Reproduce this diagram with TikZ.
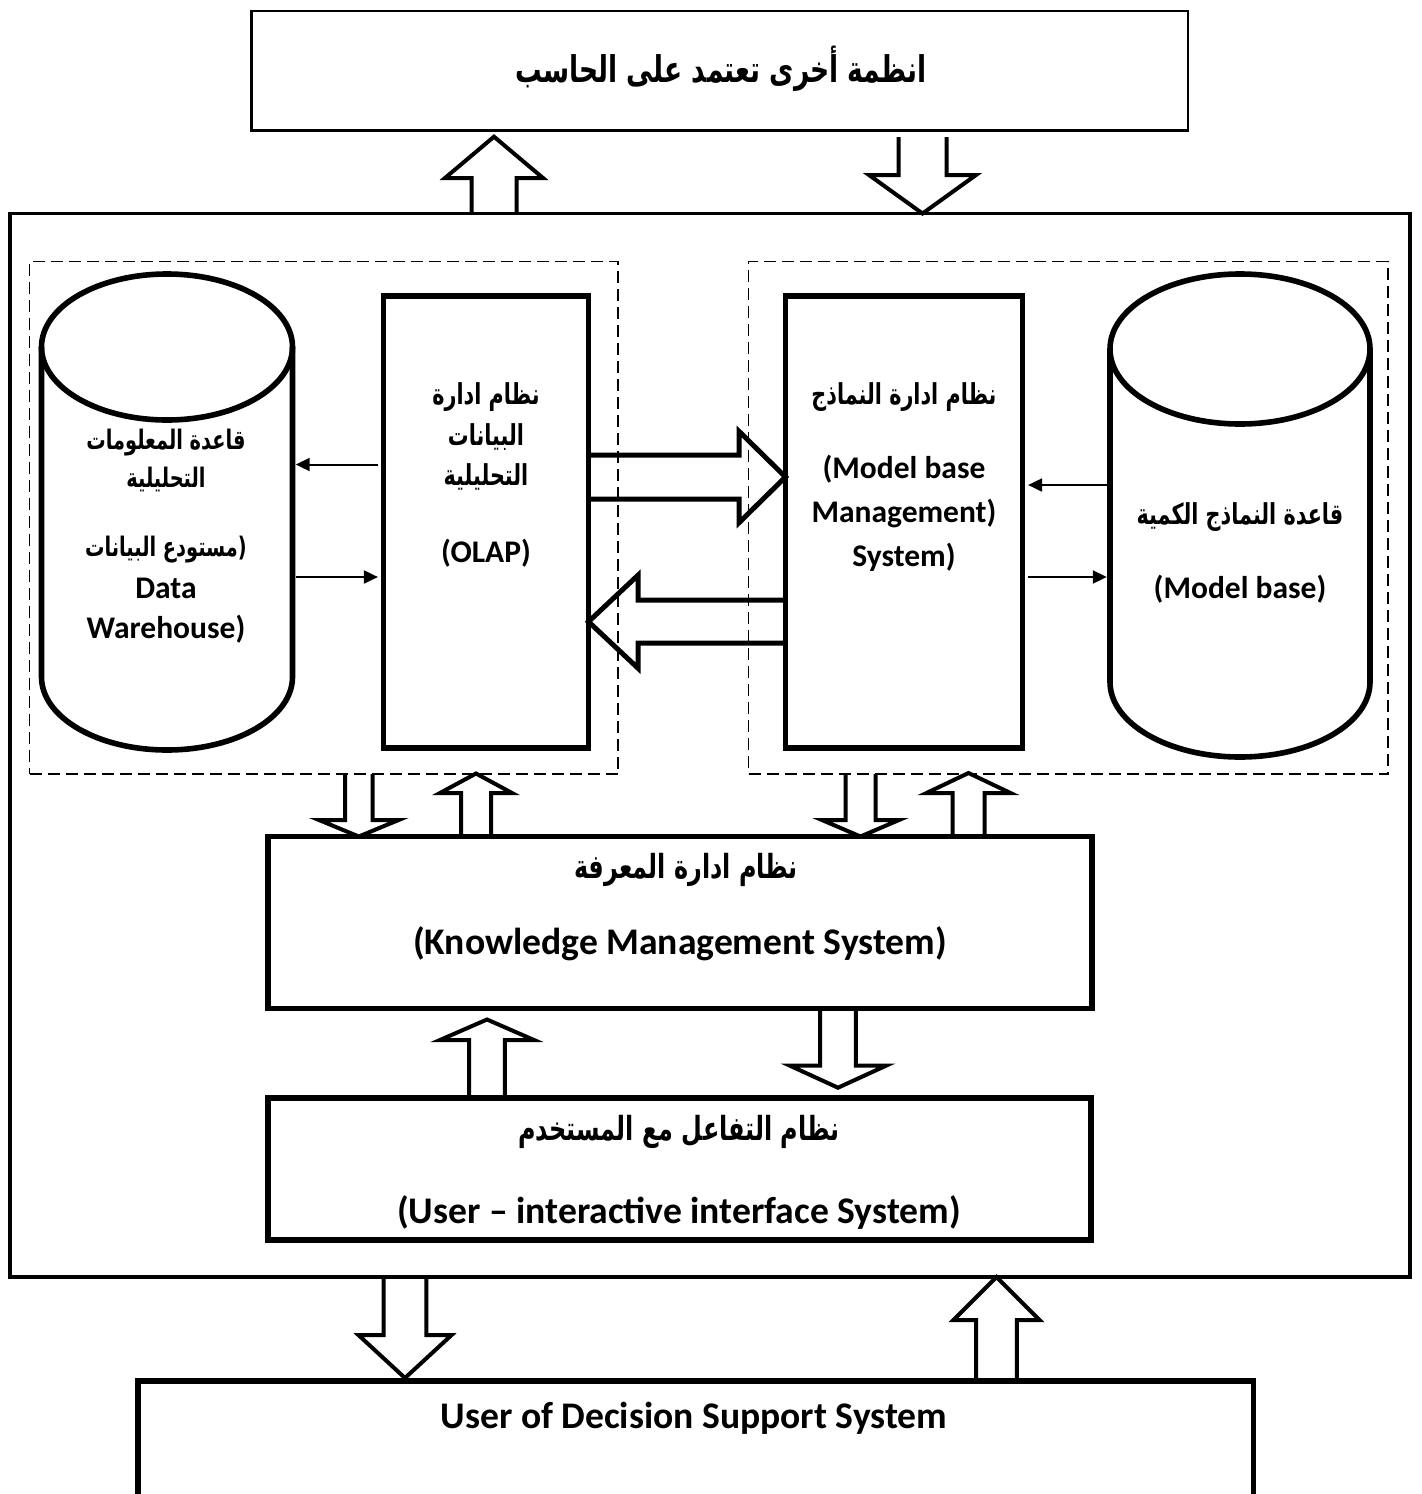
\documentclass[tikz,border=0pt]{standalone}
\usepackage{fontspec}
\setmainfont{Carlito}
\newfontfamily\arabicfont[Script=Arabic, FakeStretch=0.72]{DejaVu Sans}
\TeXXeTstate=1
\usetikzlibrary{arrows.meta}

\tikzset{
  thinbox/.style={draw, line width=1.25pt, rectangle, inner sep=0pt},
  outerbox/.style={draw, line width=1.6pt, rectangle, inner sep=0pt},
  heavybox/.style={draw, line width=2.8pt, rectangle, inner sep=0pt},
  dashbox/.style={draw, line width=0.6pt, dash pattern=on 6pt off 3pt, rectangle, inner sep=0pt},
  ghost/.style={rectangle, inner sep=0pt},
  heavyline/.style={line width=2.8pt},
  smallarrow/.style={line width=1pt, -{Triangle[length=7pt,width=6.5pt]}, shorten >=1.4pt, shorten <=1.4pt},
  hollowarrow/.style={line width=2pt, line join=miter},
  wideharrow/.style={line width=2.5pt, line join=miter},
  entxt/.style={font=\bfseries\fontsize{15.75}{18}\selectfont, anchor=base, inner sep=0pt},
  enbig/.style={font=\bfseries\fontsize{18.8}{22}\selectfont, anchor=base, inner sep=0pt},
  artxt/.style={font=\arabicfont\bfseries\fontsize{14.4}{17}\selectfont, anchor=base, inner sep=0pt},
  ardw/.style={font=\arabicfont\bfseries\fontsize{13.45}{16}\selectfont, anchor=base, inner sep=0pt},
  arbig/.style={font=\arabicfont\bfseries\fontsize{16.6}{20}\selectfont, anchor=base, inner sep=0pt},
  artop/.style={font=\arabicfont\bfseries\fontsize{18.4}{22}\selectfont, anchor=base, inner sep=0pt},
}

% vertical hollow block arrow: x, tail y, tip y, head-base y, shaft half width, head half width
\newcommand\vblock[7][hollowarrow]{%
  \draw[#1] ({#2-#6},#3) -- ({#2-#6},#5) -- ({#2-#7},#5) -- (#2,#4)
    -- ({#2+#7},#5) -- ({#2+#6},#5) -- ({#2+#6},#3);}
% horizontal hollow block arrow: y, tail x, tip x, head-base x, shaft half width, head half width
\newcommand\hblock[7][wideharrow]{%
  \draw[#1] (#3,{#2-#6}) -- (#5,{#2-#6}) -- (#5,{#2-#7}) -- (#4,#2)
    -- (#5,{#2+#7}) -- (#5,{#2+#6}) -- (#3,{#2+#6});}

\begin{document}
\begin{tikzpicture}[x=0.5pt,y=-0.5pt]
\useasboundingbox (0,0) rectangle (1421,1494);

% ---------- boxes ----------
\node[thinbox, minimum width=468.25pt, minimum height=59.75pt] (sys) at (719.75,70.75) {};
\node[outerbox, minimum width=700pt, minimum height=531.75pt] (dss-core) at (710,745.25) {};
\node[dashbox, minimum width=294.25pt, minimum height=256.25pt] (leftgrp) at (323.75,517.75) {};
\node[dashbox, minimum width=319.75pt, minimum height=256.25pt] (rightgrp) at (1068.25,517.75) {};
\node[heavybox, minimum width=102.5pt, minimum height=226pt] (olap) at (486,522) {};
\node[heavybox, minimum width=118.5pt, minimum height=226pt] (mbms) at (904,522) {};
\node[heavybox, minimum width=412pt, minimum height=86pt] (kms) at (680,922.5) {};
\node[heavybox, minimum width=411.5pt, minimum height=71pt] (ui) at (679.5,1169) {};
\node[heavybox, minimum width=557.75pt, minimum height=109.5pt] (dss) at (695.75,1490.5) {};

% ---------- cylinders ----------
\node[ghost, minimum width=125.5pt, minimum height=238pt] (dw) at (167,512) {};
\draw[heavyline] (167,347) ellipse [x radius=125.5, y radius=73];
\draw[heavyline] (41.5,347) -- (41.5,677) arc [start angle=180, end angle=0, x radius=125.5, y radius=73] -- (292.5,347);

\node[ghost, minimum width=130pt, minimum height=241.5pt] (mb) at (1240,515.5) {};
\draw[heavyline] (1240,349) ellipse [x radius=130, y radius=75];
\draw[heavyline] (1110,349) -- (1110,682) arc [start angle=180, end angle=0, x radius=130, y radius=75] -- (1370,349);

% ---------- thin arrows ----------
\coordinate (r1) at (0,464.5);
\coordinate (r2) at (0,577);
\coordinate (r3) at (0,485);
\coordinate (r4) at (0,577);
\draw[smallarrow] (olap.west |- r1) -- (dw.east |- r1);
\draw[smallarrow] (dw.east |- r2) -- (olap.west |- r2);
\draw[smallarrow] (mb.west |- r3) -- (mbms.east |- r3);
\draw[smallarrow] (mbms.east |- r4) -- (mb.west |- r4);

% ---------- hollow block arrows ----------
\vblock{494}{213.5}{136.7}{178}{22.5}{49}
\vblock{922.5}{137}{213.5}{175}{24}{53.5}
\hblock{477}{588.5}{785.5}{739}{22}{45.7}
\hblock{621.7}{785.5}{588.5}{638}{21.5}{46.5}
\vblock{358.8}{774}{836.5}{820}{13.8}{39.8}
\vblock{476}{836.5}{773.5}{793}{15}{36}
\vblock{860.5}{774}{836.5}{820}{15}{38.5}
\vblock{968.5}{836.5}{773}{793}{16}{42}
\vblock{487}{1098}{1019.5}{1040}{17.8}{47}
\vblock{838}{1008.5}{1087.7}{1065.7}{17.8}{48}
\vblock{405}{1277}{1378}{1335}{21.3}{46.6}
\vblock{996.5}{1381}{1277}{1320}{20.3}{43}

% ---------- labels ----------
\node[artop] (sys-t) at (721,82) {\beginR انظمة أخرى تعتمد على الحاسب\endR};

\node[ardw] (dw-t1) at (166,449) {\beginR قاعدة المعلومات\endR};
\node[ardw] (dw-t2) at (166,487) {\beginR التحليلية\endR};
\node[ardw] (dw-t3) at (166,556) {\beginR مستودع البيانات\endR(};
\node[entxt] (dw-t4) at (166,598) {Data};
\node[entxt] (dw-t5) at (166,638.5) {Warehouse)};

\node[artxt] (olap-t1) at (486,404) {\beginR نظام ادارة\endR};
\node[artxt] (olap-t2) at (486,445) {\beginR البيانات\endR};
\node[artxt] (olap-t3) at (486,485) {\beginR التحليلية\endR};
\node[entxt] (olap-t4) at (486,562) {(OLAP)};

\node[artxt] (mbms-t1) at (904,404) {\beginR نظام ادارة النماذج\endR};
\node[entxt] (mbms-t2) at (904,478) {(Model base};
\node[entxt] (mbms-t3) at (904,522) {Management)};
\node[entxt] (mbms-t4) at (904,566) {System)};

\node[artxt] (mb-t1) at (1240,524) {\beginR قاعدة النماذج الكمية\endR};
\node[entxt] (mb-t2) at (1240,598) {(Model base)};

\node[arbig] (kms-t1) at (686,878) {\beginR نظام ادارة المعرفة\endR};
\node[enbig] (kms-t2) at (680,954) {(Knowledge Management System)};

\node[arbig] (ui-t1) at (679,1140) {\beginR نظام التفاعل مع المستخدم\endR};
\node[enbig] (ui-t2) at (679,1223) {(User – interactive interface System)};

\node[enbig] (dss-t) at (694,1428) {User of Decision Support System};
\end{tikzpicture}
\end{document}
